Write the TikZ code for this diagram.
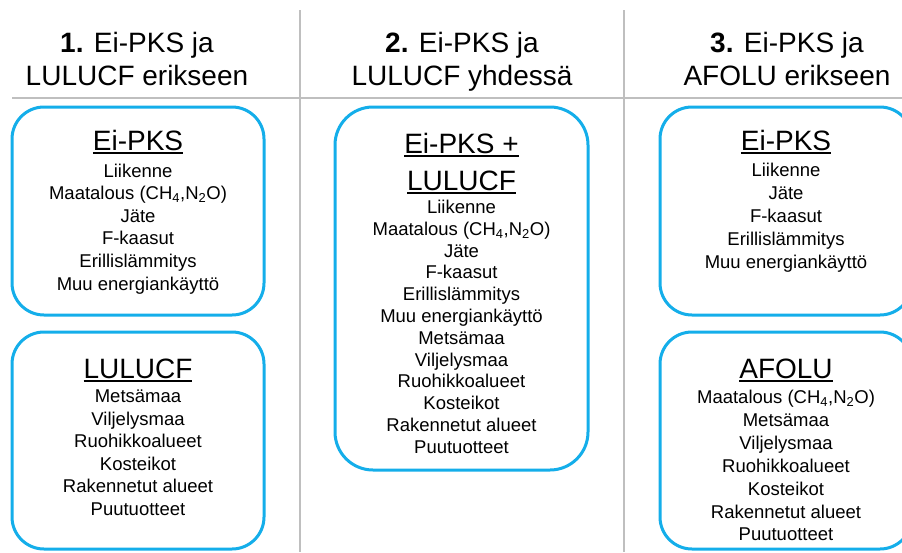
\documentclass[tikz,border=0pt]{standalone}
\usepackage{fontspec}
\setmainfont{Liberation Sans}
\definecolor{boxblue}{RGB}{20,174,234}
\definecolor{sepgray}{RGB}{191,191,191}
\newcommand\myul[1]{\setbox0\hbox{#1}\rlap{\vrule width\wd0 height -2pt depth 4pt}\box0}
\tikzset{
  head/.style={font=\fontsize{28}{33}\selectfont, align=center, anchor=base, inner sep=0pt},
  ttl/.style={font=\fontsize{28}{37}\selectfont, align=center, anchor=base, inner sep=0pt},
  items/.style={font=\fontsize{18.5}{22.6}\selectfont, align=center, anchor=base, inner sep=0pt},
  itemsb/.style={font=\fontsize{18.5}{21.8}\selectfont, align=center, anchor=base, inner sep=0pt},
  itemsc/.style={font=\fontsize{18.5}{22.9}\selectfont, align=center, anchor=base, inner sep=0pt},
  box/.style={draw=boxblue, line width=3pt, rounded corners=32pt, inner sep=0pt},
  sepline/.style={draw=sepgray, line width=2pt}
}
\begin{document}
\begin{tikzpicture}[x=1pt,y=-1pt]
\clip (0,0) rectangle (902,552);
\fill[white] (0,0) rectangle (902,552);
% separators
\coordinate (v1t) at (300,10); \coordinate (v1b) at (300,552);
\coordinate (v2t) at (624,10); \coordinate (v2b) at (624,552);
\coordinate (hl) at (12,98); \coordinate (hr) at (902,98);
\draw[sepline] (v1t) -- (v1b);
\draw[sepline] (v2t) -- (v2b);
\draw[sepline] (hl) -- (hr);
% headers (anchor = baseline of last line)
\node[head] (h1) at (137,85) {\textbf{1.} Ei-PKS ja\\LULUCF erikseen};
\node[head] (h2) at (462,85) {\textbf{2.} Ei-PKS ja\\LULUCF yhdessä};
\node[head] (h3) at (787,85) {\textbf{3.} Ei-PKS ja\\AFOLU erikseen};
% boxes
\node[box, minimum width=252pt, minimum height=208pt] (b1a) at (138,211) {};
\node[box, minimum width=252pt, minimum height=217pt] (b1b) at (138,440.5) {};
\node[box, minimum width=253pt, minimum height=363pt, rounded corners=38pt] (b2) at (461.5,288.5) {};
\node[box, minimum width=252pt, minimum height=208pt] (b3a) at (786,211) {};
\node[box, minimum width=252pt, minimum height=217pt] (b3b) at (786,440.5) {};
% box 1
\node[ttl] (t1a) at (138,150) {\myul{Ei-PKS}};
\node[items] (i1a) at (138,290) {Liikenne\\Maatalous (CH\textsubscript{4},N\textsubscript{2}O)\\Jäte\\F-kaasut\\Erillislämmitys\\Muu energiankäyttö};
\node[ttl] (t1b) at (138,378) {\myul{LULUCF}};
\node[items] (i1b) at (138,515.5) {Metsämaa\\Viljelysmaa\\Ruohikkoalueet\\Kosteikot\\Rakennetut alueet\\Puutuotteet};
% box 2
\node[ttl] (t2) at (461.5,190) {\myul{Ei-PKS +}\\\myul{LULUCF}};
\node[itemsb] (i2) at (461.5,453.3) {Liikenne\\Maatalous (CH\textsubscript{4},N\textsubscript{2}O)\\Jäte\\F-kaasut\\Erillislämmitys\\Muu energiankäyttö\\Metsämaa\\Viljelysmaa\\Ruohikkoalueet\\Kosteikot\\Rakennetut alueet\\Puutuotteet};
% box 3
\node[ttl] (t3a) at (786,150) {\myul{Ei-PKS}};
\node[itemsc] (i3a) at (786,268.1) {Liikenne\\Jäte\\F-kaasut\\Erillislämmitys\\Muu energiankäyttö};
\node[ttl] (t3b) at (786,378) {\myul{AFOLU}};
\node[itemsc] (i3b) at (786,540.9) {Maatalous (CH\textsubscript{4},N\textsubscript{2}O)\\Metsämaa\\Viljelysmaa\\Ruohikkoalueet\\Kosteikot\\Rakennetut alueet\\Puutuotteet};
\end{tikzpicture}
\end{document}
